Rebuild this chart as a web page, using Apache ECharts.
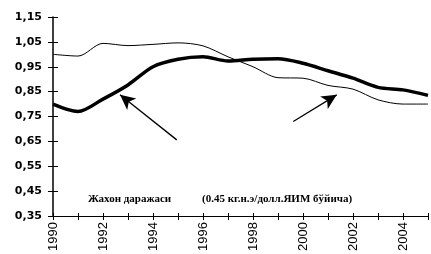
<!DOCTYPE html>
<html>
<head>
<meta charset="utf-8">
<script src="https://cdn.jsdelivr.net/npm/echarts@6/dist/echarts.min.js"></script>
<style>
    html, body { margin: 0; padding: 0; background: #fff; }
    #main { width: 431px; height: 254px; }
</style>
</head>
<body>
<div id="main"></div>
<script>
// годлар
let years = [1990, 1991, 1992, 1993, 1994, 1995, 1996, 1997, 1998, 1999, 2000, 2001, 2002, 2003, 2004, 2005];
// Ўзбекистон (қалин чизиқ)
let country = [0.80, 0.77, 0.82, 0.877, 0.95, 0.98, 0.99, 0.973, 0.98, 0.982, 0.964, 0.934, 0.904, 0.867, 0.857, 0.835];
// Жахон даражаси (ингичка чизиқ)
let world = [1.00, 0.993, 1.044, 1.035, 1.04, 1.046, 1.034, 0.99, 0.95, 0.906, 0.904, 0.875, 0.86, 0.817, 0.80, 0.80];
// стрелкалар [дум, уч]
let arrows = [
    [[1994.95, 0.656], [1992.68, 0.837]],
    [[1999.61, 0.730], [2001.35, 0.837]]
];
let noteLeft = 'Жахон даражаси';
let noteRight = '(0.45 кг.н.э/долл.ЯИМ бўйича)';

function pairs(arr) {
    let out = [];
    for (let i = 0; i < years.length; i++) {
        out.push([years[i], arr[i]]);
    }
    return out;
}

let myChart = echarts.init(document.getElementById('main'));

option = {
    animation: false,
    grid: { left: 53, right: 3, top: 17, bottom: 38 },
    xAxis: [{
        type: 'value',
        min: 1990,
        max: 2005,
        interval: 1,
        axisLine: { lineStyle: { color: '#000', width: 1.2 } },
        axisTick: { length: 4, lineStyle: { color: '#000' } },
        splitLine: { show: false },
        axisLabel: {
            rotate: 90,
            color: '#000',
            fontFamily: 'Liberation Sans',
            fontSize: 13,
            margin: 6,
            formatter: function (v) { return v % 2 == 0 && v < 2005 ? String(v) : ''; }
        }
    }, {
        type: 'value',
        position: 'bottom',
        min: 1990,
        max: 2005,
        interval: 1,
        axisLine: { show: false },
        axisTick: { inside: true, length: 3, lineStyle: { color: '#000' } },
        axisLabel: { show: false },
        splitLine: { show: false }
    }],
    yAxis: [{
        type: 'value',
        min: 0.35,
        max: 1.15,
        interval: 0.1,
        axisLine: { show: true, lineStyle: { color: '#000', width: 1.5 } },
        axisTick: { show: true, length: 5, lineStyle: { color: '#000' } },
        splitLine: { show: false },
        axisLabel: {
            color: '#000',
            fontFamily: 'DejaVu Sans',
            fontWeight: 'bold',
            fontSize: 11,
            margin: 11,
            formatter: function (v) { return v.toFixed(2).replace('.', ','); }
        }
    }, {
        type: 'value',
        position: 'left',
        min: 0.35,
        max: 1.15,
        interval: 0.1,
        axisLine: { show: false },
        axisTick: { show: true, inside: true, length: 5, lineStyle: { color: '#000' } },
        axisLabel: { show: false },
        splitLine: { show: false }
    }],
    series: [{
        name: 'world',
        type: 'line',
        smooth: 0.3,
        symbol: 'none',
        data: pairs(world),
        lineStyle: { color: '#000', width: 1 },
        markLine: {
            silent: true,
            symbol: ['none', 'arrow'],
            symbolSize: [11, 15],
            label: { show: false },
            lineStyle: { color: '#000', width: 1.3, type: 'solid' },
            data: arrows.map(function (a) {
                return [{ coord: a[0] }, { coord: a[1] }];
            })
        }
    }, {
        name: 'country',
        type: 'line',
        smooth: 0.3,
        symbol: 'none',
        data: pairs(country),
        lineStyle: { color: '#000', width: 3.5 }
    }],
    graphic: [{
        type: 'text',
        left: 88,
        top: 194,
        style: {
            text: noteLeft,
            font: 'bold 11px "Liberation Serif"',
            fill: '#000'
        }
    }, {
        type: 'text',
        left: 202,
        top: 194,
        style: {
            text: noteRight,
            font: 'bold 11px "Liberation Serif"',
            fill: '#000'
        }
    }]
};

myChart.setOption(option);
</script>
</body>
</html>
